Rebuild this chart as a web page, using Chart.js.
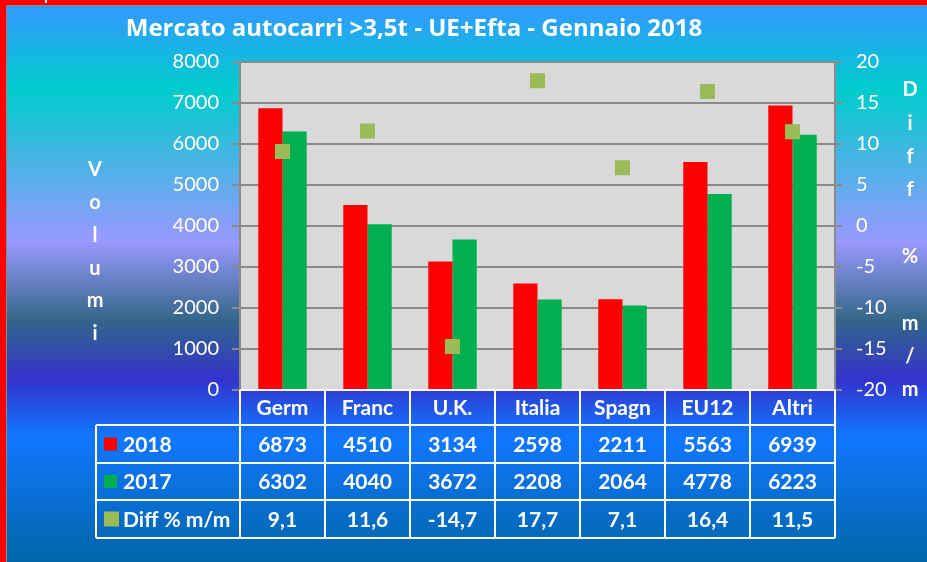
<!DOCTYPE html>
<html>
<head>
<meta charset="utf-8">
<script src="https://cdn.jsdelivr.net/npm/chart.js@4/dist/chart.umd.min.js"></script>
<style>
  html, body { margin: 0; padding: 0; background: #fff; }
  #wrap { width: 927px; height: 562px; }
</style>
</head>
<body>
<div id="wrap"><canvas id="chart" width="927" height="562"></canvas></div>
<script>
// Dati mercato autocarri >3,5t
const paesi = ["Germ", "Franc", "U.K.", "Italia", "Spagn", "EU12", "Altri"];
const vol2018 = [6873, 4510, 3134, 2598, 2211, 5563, 6939];
const vol2017 = [6302, 4040, 3672, 2208, 2064, 4778, 6223];
const diffPct = [9.1, 11.6, -14.7, 17.7, 7.1, 16.4, 11.5];

const titolo = "Mercato autocarri >3,5t - UE+Efta - Gennaio 2018";
const serieNomi = ["2018", "2017", "Diff % m/m"];
const colori = ["#ff0000", "#00b050", "#9bbb59"];

const FONT = "Lato, 'Open Sans', sans-serif";

const fmtDiff = v => v.toFixed(1).replace(".", ",");

// sfondo, bordo rosso, area grafico
const sfondo = {
  id: "sfondo",
  beforeDraw(chart) {
    const { ctx, width, height, chartArea: a } = chart;
    const g = ctx.createLinearGradient(0, 0, 0, height);
    g.addColorStop(0.01, "#3399ff");
    g.addColorStop(0.16, "#00cccc");
    g.addColorStop(0.43, "#9999ff");
    g.addColorStop(0.57, "#336688");
    g.addColorStop(0.675, "#3333cc");
    g.addColorStop(0.775, "#1177ff");
    g.addColorStop(1, "#0066a8");
    ctx.save();
    ctx.fillStyle = g;
    ctx.fillRect(0, 0, width, height);
    ctx.fillStyle = "#ff0000";
    ctx.fillRect(0, 0, 6, height);
    ctx.fillRect(0, 0, width, 5);
    ctx.fillStyle = "#8a8a8a";
    ctx.fillRect(6, 5, 1, height);
    ctx.fillRect(6, 5, width, 1);
    ctx.fillStyle = "#ffffff";
    ctx.fillRect(45, 0, 2, 3);
    ctx.fillStyle = "#d9d9d9";
    ctx.fillRect(a.left, a.top, a.right - a.left, a.bottom - a.top);
    ctx.restore();
  }
};

// titolo, titoli assi verticali e tabella dati
const tabella = {
  id: "tabella",
  afterDraw(chart) {
    const { ctx, chartArea: a } = chart;
    const x = chart.scales.x;
    const half = (a.right - a.left) / paesi.length / 2;
    ctx.save();
    ctx.fillStyle = "#ffffff";
    ctx.textAlign = "center";
    ctx.textBaseline = "middle";

    ctx.font = "bold 24px 'Open Sans', sans-serif";
    ctx.fillText(titolo, 414, 29);

    ctx.font = "bold 20px " + FONT;
    "Volumi".split("").forEach((c, i) => ctx.fillText(c, 95, 170 + i * 32.7));
    "Diff % m/m".split("").forEach((c, i) => ctx.fillText(c, 910, 90 + i * 33.3));

    // righe tabella
    const rows = [390, 425, 463, 500, 538];
    const left = 96;
    ctx.strokeStyle = "#ffffff";
    ctx.lineWidth = 2;
    ctx.beginPath();
    ctx.moveTo(a.left, rows[0]); ctx.lineTo(a.right, rows[0]);
    for (let r = 1; r < rows.length; r++) {
      ctx.moveTo(left, rows[r]); ctx.lineTo(a.right, rows[r]);
    }
    ctx.moveTo(left, rows[1]); ctx.lineTo(left, rows[4]);
    ctx.moveTo(a.left, rows[0]); ctx.lineTo(a.left, rows[4]);
    paesi.forEach((p, i) => {
      const xr = x.getPixelForValue(i) + half;
      ctx.moveTo(xr, rows[0]); ctx.lineTo(xr, rows[4]);
    });
    ctx.stroke();

    ctx.font = "bold 21px " + FONT;
    const serie = [vol2018.map(String), vol2017.map(String), diffPct.map(fmtDiff)];
    paesi.forEach((p, i) => {
      const cx = x.getPixelForValue(i);
      ctx.fillText(p, cx, (rows[0] + rows[1]) / 2 + 1);
      serie.forEach((s, r) => ctx.fillText(s[i], cx, (rows[r + 1] + rows[r + 2]) / 2 + 1));
    });

    // legenda nella tabella
    ctx.textAlign = "left";
    serieNomi.forEach((n, r) => {
      const cy = (rows[r + 1] + rows[r + 2]) / 2;
      const s = r === 2 ? 15 : 13;
      ctx.fillStyle = colori[r];
      ctx.fillRect(104, cy - s / 2, s, s);
      ctx.fillStyle = "#ffffff";
      ctx.fillText(n, 123, cy + 1);
    });
    ctx.restore();
  }
};

new Chart(document.getElementById("chart"), {
  type: "bar",
  data: {
    labels: paesi,
    datasets: [
      {
        label: serieNomi[0], data: vol2018, backgroundColor: colori[0],
        yAxisID: "y", order: 2, categoryPercentage: 0.57, barPercentage: 1
      },
      {
        label: serieNomi[1], data: vol2017, backgroundColor: colori[1],
        yAxisID: "y", order: 2, categoryPercentage: 0.57, barPercentage: 1
      },
      {
        type: "line", label: serieNomi[2], data: diffPct, yAxisID: "y1",
        showLine: false, pointStyle: "rect", pointRadius: 10.6,
        pointBackgroundColor: colori[2], pointBorderWidth: 0, order: 1
      }
    ]
  },
  options: {
    responsive: false,
    animation: false,
    layout: { padding: { top: 62, bottom: 172, left: 0, right: 0 } },
    plugins: { legend: { display: false }, tooltip: { enabled: false } },
    scales: {
      x: { display: false },
      y: {
        position: "left", min: 0, max: 8000,
        ticks: {
          stepSize: 1000, color: "#ffffff", padding: 13,
          font: { family: FONT, size: 20 }, callback: v => String(v)
        },
        grid: { color: "#8a8a8a", lineWidth: 2, tickLength: 8 },
        border: { color: "#8a8a8a", width: 2 },
        afterFit: s => { s.width = 240; }
      },
      y1: {
        position: "right", min: -20, max: 20,
        ticks: {
          stepSize: 5, color: "#ffffff", padding: 14,
          font: { family: FONT, size: 20 }, callback: v => String(v)
        },
        grid: { drawOnChartArea: false, color: "#8a8a8a", lineWidth: 2, tickLength: 7 },
        border: { color: "#8a8a8a", width: 2 },
        afterFit: s => { s.width = 92; }
      }
    }
  },
  plugins: [sfondo, tabella]
});
</script>
</body>
</html>
